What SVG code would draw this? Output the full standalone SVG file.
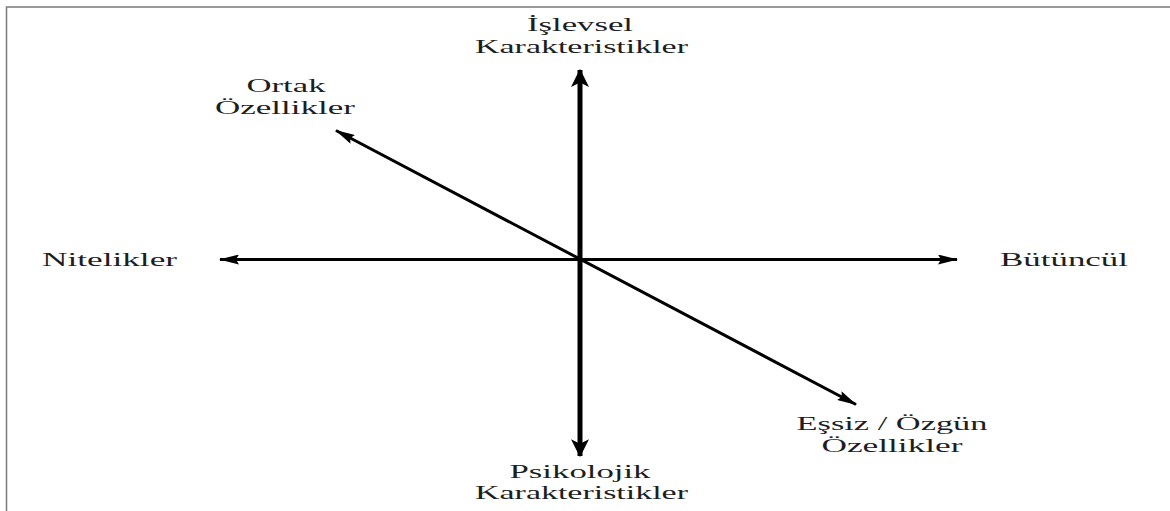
<svg xmlns="http://www.w3.org/2000/svg" width="1170" height="511" viewBox="0 0 1170 511">
<style>
text{font-family:'Liberation Serif','Times New Roman','DejaVu Serif',serif;font-size:19px;fill:#1e1e1e}
.ax{stroke:#000;fill:none}
</style>
<defs>
<marker id="hv" markerUnits="userSpaceOnUse" markerWidth="18" markerHeight="18" viewBox="0 0 16 16" refX="15" refY="8" orient="auto-start-reverse"><path d="M0,0 L16,8 L0,16 L4,8 Z" fill="#000"/></marker>
<marker id="hs" markerUnits="userSpaceOnUse" markerWidth="20" markerHeight="10" viewBox="0 0 20 10" refX="19" refY="5" orient="auto-start-reverse"><path d="M0,0 L20,5 L0,10 L3,5 Z" fill="#000"/></marker>
</defs>
<rect width="1170" height="511" fill="#fff"/>
<path d="M6.5,511 V7 H1170" stroke="#7a7a7a" stroke-width="1.5" fill="none"/>
<g id="connectors">
<line class="ax" x1="580" y1="456" x2="580" y2="70" stroke-width="5" marker-start="url(#hv)" marker-end="url(#hv)"/>
<line class="ax" x1="220" y1="259.5" x2="957" y2="259.5" stroke-width="3" marker-start="url(#hs)" marker-end="url(#hs)"/>
<line class="ax" x1="336" y1="130.5" x2="856" y2="404.5" stroke-width="3" marker-start="url(#hs)" marker-end="url(#hs)"/>
</g>
<g id="n-islevsel">
<text x="580" y="31" text-anchor="middle" textLength="106" lengthAdjust="spacingAndGlyphs">İşlevsel</text>
<text x="581.5" y="53" text-anchor="middle" textLength="213" lengthAdjust="spacingAndGlyphs">Karakteristikler</text>
</g>
<g id="n-ortak">
<text x="286" y="92" text-anchor="middle" textLength="79" lengthAdjust="spacingAndGlyphs">Ortak</text>
<text x="285" y="113.5" text-anchor="middle" textLength="140" lengthAdjust="spacingAndGlyphs">Özellikler</text>
</g>
<g id="n-nitelikler">
<text x="42" y="265.5" textLength="135" lengthAdjust="spacingAndGlyphs">Nitelikler</text>
</g>
<g id="n-butuncul">
<text x="1000" y="265.5" textLength="128" lengthAdjust="spacingAndGlyphs">Bütüncül</text>
</g>
<g id="n-essiz">
<text x="892" y="430" text-anchor="middle" textLength="191" lengthAdjust="spacingAndGlyphs">Eşsiz / Özgün</text>
<text x="892" y="451.5" text-anchor="middle" textLength="141" lengthAdjust="spacingAndGlyphs">Özellikler</text>
</g>
<g id="n-psikolojik">
<text x="580" y="478" text-anchor="middle" textLength="141" lengthAdjust="spacingAndGlyphs">Psikolojik</text>
<text x="581.5" y="499" text-anchor="middle" textLength="213" lengthAdjust="spacingAndGlyphs">Karakteristikler</text>
</g>
</svg>
